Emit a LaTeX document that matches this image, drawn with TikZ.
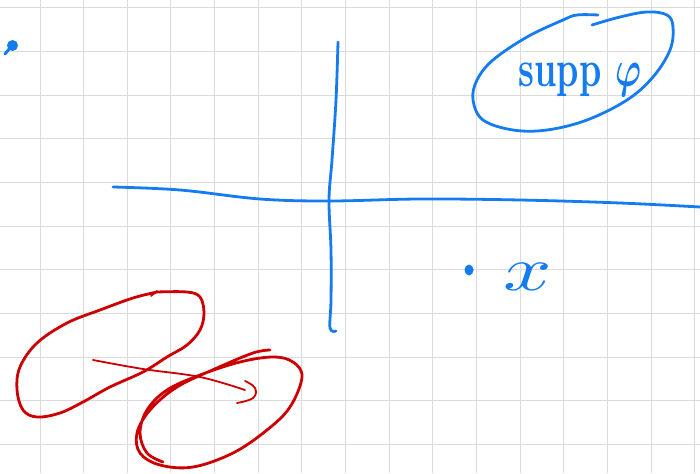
\documentclass[tikz,border=0pt]{standalone}
\usepackage{graphicx}
\usepackage{bm}
\definecolor{penblue}{RGB}{20,124,240}
\definecolor{penred}{RGB}{204,0,0}
\definecolor{gridgray}{RGB}{218,218,218}
\tikzset{
  gridline/.style={draw=gridgray, line width=1pt},
  bluepen/.style={draw=penblue, line width=2.8pt, line cap=round, line join=round},
  redpen/.style={draw=penred, line width=2.8pt, line cap=round, line join=round},
  redthin/.style={draw=penred, line width=1.8pt, line cap=round, line join=round},
  handtext/.style={text=penblue, inner sep=0pt}
}
\begin{document}
\begin{tikzpicture}[x=1pt,y=-1pt]
\useasboundingbox (0,0) rectangle (700,473);
\fill[white] (0,0) rectangle (700,473);
% grid
\foreach \i in {0,...,15} \draw[gridline] ({40+43.65*\i},0) -- ({40+43.65*\i},473);
\foreach \j in {0,...,10} \draw[gridline] (0,{8+43.65*\j}) -- (700,{8+43.65*\j});
% top-left dot
\fill[penblue] (12.5,45.5) circle (5.5);
\draw[bluepen, line width=3pt] (10,48) -- (5,54);
% axes
\draw[bluepen] plot[smooth, tension=0.6] coordinates {(113,187) (180,190) (260,199) (330,201) (420,199) (520,200) (620,203) (700,207)};
\draw[bluepen] plot[smooth, tension=0.6] coordinates {(338,42) (336,100) (332,160) (329,200) (331,250) (331,300) (330,328) (336,331)};
% support blob
\draw[bluepen] plot[smooth, tension=0.6] coordinates {(598,15) (577,15) (563,20) (527,37) (493,60) (477,80) (473,100) (483,120) (513,130) (547,130) (587,120) (627,100) (653,77) (670,50) (673,27) (667,15) (647,12) (620,17) (592,25)};
\node[handtext, anchor=base] (supp) at (580,87) {\scalebox{3.5}[5.2]{\bfseries supp $\bm{\varphi}$}};
% point x
\fill[penblue] (469,270) ellipse (4.5 and 5.5);
\node[handtext, anchor=center] (xlabel) at (528,277) {\scalebox{8.5}[6.3]{$x$}};
% red loops
\draw[redpen] plot[smooth, tension=0.6] coordinates {(157,292) (187,292) (200,297) (204,313) (200,330) (187,345) (167,357) (143,372) (110,387) (83,402) (60,413) (37,417) (23,410) (17,390) (20,367) (37,343) (67,323) (100,310) (133,298) (157,292)};
\draw[redthin] (151,296) -- (157,291);
\draw[redthin] plot[smooth, tension=0.6] coordinates {(93,360) (143,369) (200,377) (245,390)};
\draw[redthin] plot[smooth, tension=0.7] coordinates {(245,381) (255,388) (253,398) (237,403)};
\draw[redpen] plot[smooth, tension=0.6] coordinates {(270,350) (253,353) (217,368) (177,387) (150,410) (137,433) (140,453) (160,465) (193,467) (233,453) (267,430) (290,407) (302,377) (293,362) (273,357) (240,362) (200,375) (167,390) (147,410) (140,433) (147,453) (163,462)};
\end{tikzpicture}
\end{document}
